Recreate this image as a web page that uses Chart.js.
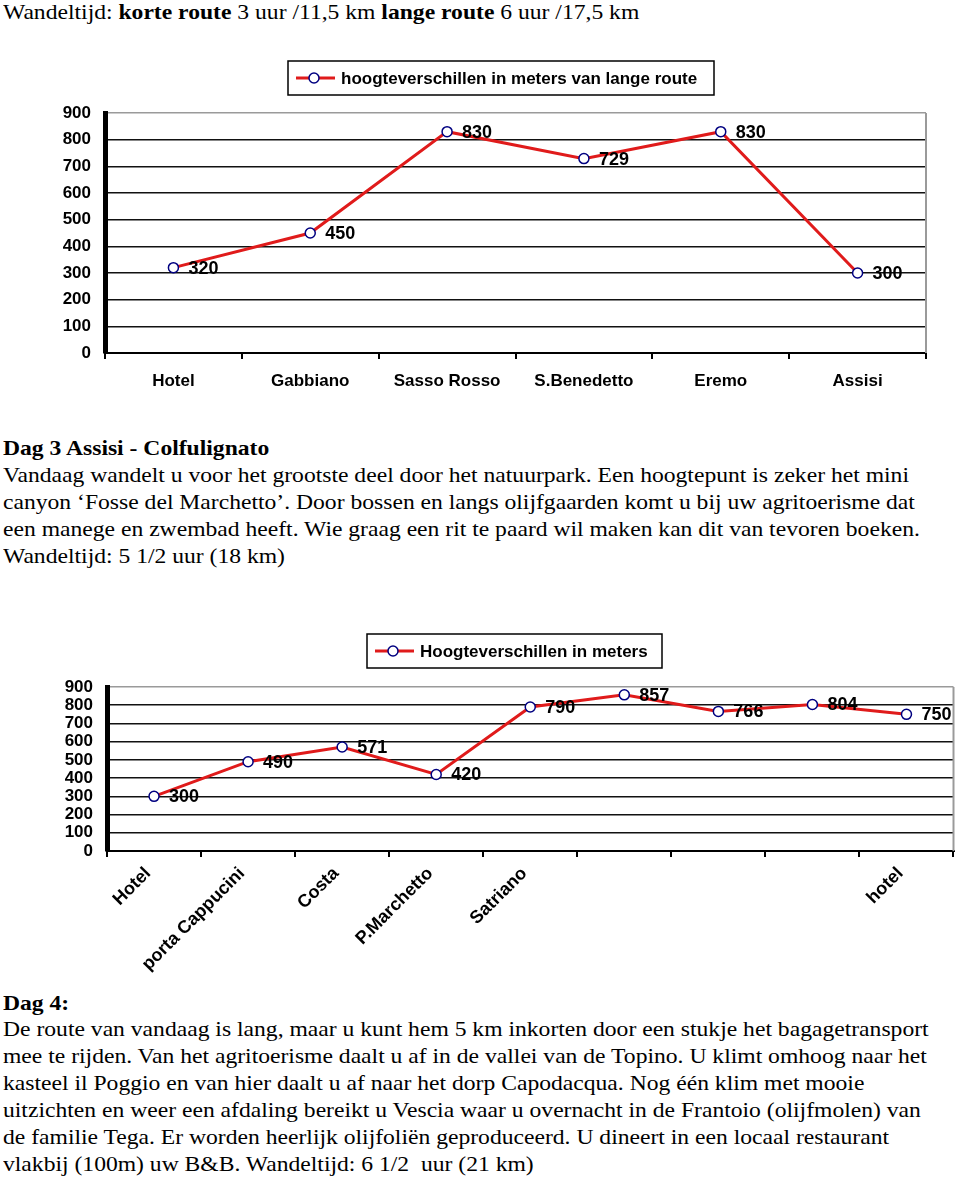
<!DOCTYPE html>
<html>
<head>
<meta charset="utf-8">
<script src="https://cdn.jsdelivr.net/npm/chart.js@4"></script>
<style>
  body { margin: 0; background: #fff; width: 960px; height: 1183px; position: relative; overflow: hidden; }
  .txt { position: absolute; left: 3px; font-family: "Liberation Serif", "Times New Roman", serif; font-size: 22px; line-height: 27px; color: #000; white-space: nowrap; transform: scaleX(1.073); transform-origin: 0 0; }
  canvas { position: absolute; left: 0; }
</style>
</head>
<body>

<div class="txt" style="top:-2px">Wandeltijd: <b>korte route</b> 3 uur /11,5 km <b>lange route</b> 6 uur /17,5 km</div>

<canvas id="chart1" width="960" height="345" style="top:55px"></canvas>

<div class="txt" style="top:434px"><b>Dag 3 Assisi - Colfulignato</b><br>
Vandaag wandelt u voor het grootste deel door het natuurpark. Een hoogtepunt is zeker het mini<br>
canyon ‘Fosse del Marchetto’. Door bossen en langs olijfgaarden komt u bij uw agritoerisme dat<br>
een manege en zwembad heeft. Wie graag een rit te paard wil maken kan dit van tevoren boeken.<br>
Wandeltijd: 5 1/2 uur (18 km)</div>

<canvas id="chart2" width="960" height="360" style="top:625px"></canvas>

<div class="txt" style="top:989px"><b>Dag 4:</b></div>
<div class="txt" style="top:1015px">De route van vandaag is lang, maar u kunt hem 5 km inkorten door een stukje het bagagetransport<br>
mee te rijden. Van het agritoerisme daalt u af in de vallei van de Topino. U klimt omhoog naar het<br>
kasteel il Poggio en van hier daalt u af naar het dorp Capodacqua. Nog één klim met mooie<br>
uitzichten en weer een afdaling bereikt u Vescia waar u overnacht in de Frantoio (olijfmolen) van<br>
de familie Tega. Er worden heerlijk olijfoliën geproduceerd. U dineert in een locaal restaurant<br>
vlakbij (100m) uw B&amp;B. Wandeltijd: 6 1/2&nbsp; uur (21 km)</div>

<script>
// long route day 2
var route1Labels = ['Hotel', 'Gabbiano', 'Sasso Rosso', 'S.Benedetto', 'Eremo', 'Assisi'];
var route1Heights = [320, 450, 830, 729, 830, 300];
var route1Name = 'hoogteverschillen in meters van lange route';

// day 3 Assisi - Colfulignato
var route2Labels = ['Hotel', 'porta Cappucini', 'Costa', 'P.Marchetto', 'Satriano', '', '', '', 'hotel'];
var route2Heights = [300, 490, 571, 420, 790, 857, 766, 804, 750];
var route2Name = 'Hoogteverschillen in meters';

var yMin = 0, yMax = 900, yStep = 100;

var FONT = '"Liberation Sans", Arial, sans-serif';
var RED = '#e01b1b';
var NAVY = '#000080';

// value labels, right border and boxed legend
var decorations = {
  id: 'decorations',
  afterDatasetsDraw: function (chart, args, opts) {
    var ctx = chart.ctx, area = chart.chartArea;
    var ds = chart.data.datasets[0];
    ctx.save();

    ctx.strokeStyle = '#9a9a9a';
    ctx.lineWidth = 2;
    ctx.beginPath();
    ctx.moveTo(area.right, area.top);
    ctx.lineTo(area.right, area.bottom);
    ctx.stroke();

    ctx.font = 'bold 18px ' + FONT;
    ctx.fillStyle = '#000';
    ctx.textAlign = 'left';
    ctx.textBaseline = 'middle';
    chart.getDatasetMeta(0).data.forEach(function (pt, i) {
      ctx.fillText(ds.data[i], pt.x + 15, pt.y + 1);
    });

    var b = opts.box;
    var my = b.y + b.h / 2;
    ctx.strokeStyle = '#000';
    ctx.lineWidth = 1.5;
    ctx.strokeRect(b.x, b.y, b.w, b.h);
    ctx.strokeStyle = RED;
    ctx.lineWidth = 3;
    ctx.beginPath();
    ctx.moveTo(b.x + 8, my);
    ctx.lineTo(b.x + 47, my);
    ctx.stroke();
    ctx.beginPath();
    ctx.arc(b.x + 26, my, 5, 0, Math.PI * 2);
    ctx.fillStyle = '#fff';
    ctx.fill();
    ctx.strokeStyle = NAVY;
    ctx.lineWidth = 1.5;
    ctx.stroke();
    ctx.font = 'bold 17px ' + FONT;
    ctx.fillStyle = '#000';
    ctx.fillText(ds.label, b.x + 53, my + 1);

    ctx.restore();
  }
};

function makeChart(id, labels, values, name, opt) {
  return new Chart(document.getElementById(id), {
    type: 'line',
    data: {
      labels: labels,
      datasets: [{
        label: name,
        data: values,
        borderColor: RED,
        borderWidth: 3,
        tension: 0,
        pointRadius: 5,
        pointBorderWidth: 1.5,
        pointBorderColor: NAVY,
        pointBackgroundColor: '#fff'
      }]
    },
    options: {
      responsive: false,
      animation: false,
      layout: { padding: { top: opt.top, right: opt.right, left: 0, bottom: 0 } },
      plugins: {
        legend: { display: false },
        tooltip: { enabled: false },
        decorations: { box: opt.box }
      },
      scales: {
        x: {
          offset: true,
          afterFit: function (s) { s.height = opt.xHeight; },
          grid: { offset: true, drawOnChartArea: false, color: '#000', lineWidth: 2, tickLength: 6 },
          border: { color: '#000', width: 2 },
          ticks: {
            autoSkip: false,
            minRotation: opt.rotation,
            maxRotation: opt.rotation,
            padding: opt.labelPad,
            labelOffset: opt.labelShift,
            color: '#000',
            font: { family: FONT, size: opt.xFont, weight: 'bold' }
          }
        },
        y: {
          min: yMin,
          max: yMax,
          afterFit: function (s) { s.width = opt.yWidth; },
          grid: {
            drawTicks: false,
            color: function (c) { return c.tick && c.tick.value === yMax ? '#9a9a9a' : '#111'; },
            lineWidth: 1.5
          },
          border: { color: '#000', width: 5 },
          ticks: {
            autoSkip: false,
            stepSize: yStep,
            padding: 14,
            color: '#000',
            font: { family: FONT, size: 17, weight: 'bold' }
          }
        }
      }
    },
    plugins: [decorations]
  });
}

makeChart('chart1', route1Labels, route1Heights, route1Name, {
  top: 58, right: 34, xHeight: 47, yWidth: 105, rotation: 0, labelPad: 12, labelShift: 0, xFont: 17,
  box: { x: 288, y: 6, w: 426, h: 34 }
});

makeChart('chart2', route2Labels, route2Heights, route2Name, {
  top: 62, right: 5, xHeight: 134, yWidth: 107, rotation: 45, labelPad: 6, labelShift: -6, xFont: 18,
  box: { x: 367, y: 9, w: 295, h: 34 }
});
</script>
</body>
</html>
